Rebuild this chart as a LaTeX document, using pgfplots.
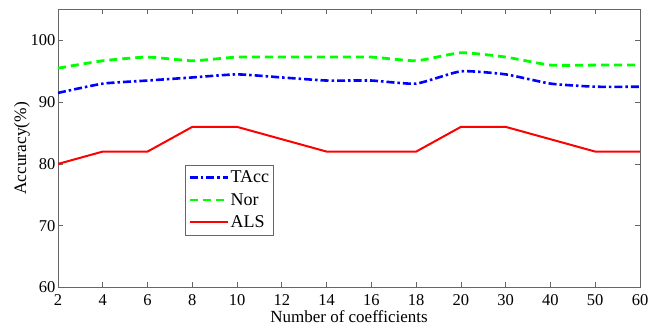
\documentclass[border=0pt]{standalone}
\usepackage{pgfplots}
\pgfplotsset{compat=1.18}
\usepackage{fontspec}
\setmainfont{Liberation Serif}

\pgfplotstableread{
x  tacc  nor   als
0  91.5  95.5  80
1  93.0  96.7  82
2  93.5  97.3  82
3  94.0  96.7  86
4  94.5  97.3  86
5  94.0  97.3  84
6  93.5  97.3  82
7  93.5  97.3  82
8  93.0  96.7  82
9  95.0  98.0  86
10 94.5  97.3  86
11 93.0  96.0  84
12 92.5  96.0  82
13 92.5  96.0  82
}\accdata

\begin{document}
\begin{tikzpicture}
\begin{axis}[
  name=ax,
  scale only axis,
  width=582pt, height=278pt,
  xmin=0, xmax=13, ymin=60, ymax=105,
  xtick={0,...,13},
  xticklabels={2,4,6,8,10,12,14,16,18,20,30,40,50,60},
  ytick={60,70,80,90,100},
  tick align=inside,
  major tick length=5pt,
  axis line style={gray!80!black, line width=0.8pt},
  every tick/.style={gray!80!black, line width=0.7pt},
  tick label style={font=\fontsize{16.5}{18}\selectfont},
  /pgf/number format/assume math mode=true,
  xticklabel style={anchor=base, yshift=-18.5pt, inner sep=0pt},
  yticklabel style={xshift=1pt},
  xlabel={Number of coefficients},
  xlabel style={font=\fontsize{17}{19}\selectfont, inner sep=0pt,
    at={(axis description cs:0.5,0)}, anchor=base, yshift=-35.5pt},
  ylabel={Accuracy(\%)},
  ylabel style={font=\fontsize{17.4}{19}\selectfont, yshift=-6pt},
  legend style={at={(0.218,0.442)}, anchor=north west, draw=gray!80!black,
    line width=0.8pt, font=\fontsize{18}{20}\selectfont,
    inner xsep=3pt, inner ysep=4pt, row sep=5pt,
    nodes={inner xsep=1.5pt}},
  legend cell align=left,
  legend image code/.code={\draw[#1] (0pt,0pt) -- (38pt,0pt);},
]
\addplot[blue, line width=2.6pt, smooth, tension=0.3,
  dash pattern=on 8pt off 3pt on 2.5pt off 3pt] table[x=x, y=tacc] {\accdata};
\addlegendentry{TAcc}
\addplot[green, line width=2.8pt, smooth, tension=0.3,
  dash pattern=on 8pt off 5pt] table[x=x, y=nor] {\accdata};
\addlegendentry{Nor}
\addplot[red, line width=2pt] table[x=x, y=als] {\accdata};
\addlegendentry{ALS}
\end{axis}
\pgfresetboundingbox
\path ([shift={(-58pt,-40.5pt)}]ax.south west) rectangle ([shift={(23pt,9.5pt)}]ax.north east);
\end{tikzpicture}
\end{document}
